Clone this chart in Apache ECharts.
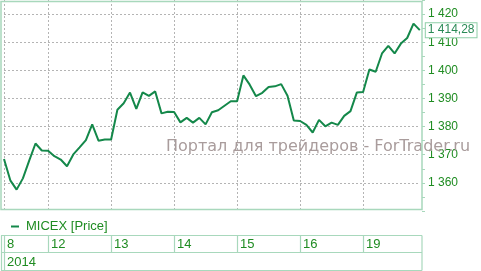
<!DOCTYPE html>
<html><head><meta charset="utf-8">
<script src="https://cdn.jsdelivr.net/npm/echarts@6/dist/echarts.min.js"></script>
<style>html,body{margin:0;padding:0;background:#fff;overflow:hidden}#c{width:481px;height:271px}</style>
</head><body><div id="c"></div>
<script>
// ---- data ----
const seriesName = 'MICEX [Price]';
const yearLabel = '2014';
const days = ['8', '12', '13', '14', '15', '16', '19'];
const day8Hours = ['13:00', '14:00', '15:00', '16:00', '17:00', '18:00', '19:00'];
const fullDayHours = ['10:00', '11:00', '12:00', '13:00', '14:00', '15:00', '16:00', '17:00', '18:00', '19:00'];
const prices = [
  1368.5, 1360.9, 1357.6, 1361.6, 1367.9, 1374.0, 1371.5,
  1371.4, 1369.5, 1368.3, 1365.9, 1370.1, 1372.6, 1375.2, 1380.8, 1375.0, 1375.4,
  1375.4, 1386.0, 1388.3, 1392.1, 1386.3, 1392.2, 1390.9, 1392.5, 1384.7, 1385.3,
  1385.2, 1381.5, 1383.1, 1381.4, 1383.1, 1380.8, 1385.1, 1385.8, 1387.4, 1389.0,
  1389.0, 1398.2, 1394.9, 1390.8, 1392.0, 1394.1, 1394.3, 1395.1, 1391.0, 1382.2,
  1382.0, 1380.6, 1377.9, 1382.4, 1380.1, 1381.4, 1380.6, 1383.8, 1385.5, 1392.1,
  1392.3, 1400.3, 1399.5, 1406.0, 1408.7, 1406.0, 1409.5, 1411.5, 1416.6, 1414.28
];
const yLabelValues = [1360, 1370, 1380, 1390, 1400, 1410, 1420];
const watermark = 'Портал для трейдеров - ForTrader.ru';

// ---- build categories ----
const categories = [];
const dayStartIdx = [];
days.forEach((d, k) => {
  dayStartIdx.push(categories.length);
  (k === 0 ? day8Hours : fullDayHours).forEach(h => categories.push(d + '.05.2014 ' + h));
});

function fmt(v, dec) {
  const s = v.toFixed(dec).split('.');
  const intPart = s[0].replace(/\B(?=(\d{3})+(?!\d))/g, ' ');
  return dec ? intPart + ',' + s[1] : intPart;
}

const TXT = '#1f8c22';
const LINE = '#14884a';
const FRAME = '#a8d8bc';
const GRIDC = '#b4b4b4';
const FONT = 'Liberation Sans';

const chart = echarts.init(document.getElementById('c'), null, {renderer: 'canvas'});
chart.setOption({
  animation: false,
  grid: {left: 4, right: 61.2, top: -2.33, bottom: 60, containLabel: false},
  legend: {
    left: 11, top: 220, padding: 0, icon: 'rect', itemWidth: 8, itemHeight: 2, itemGap: 5,
    textStyle: {color: TXT, fontSize: 13, fontFamily: FONT, padding: [0, 0, 0, 2]},
    data: [{name: seriesName}]
  },
  xAxis: {
    type: 'category', data: categories, boundaryGap: false,
    axisLine: {show: false}, axisTick: {show: false}, axisLabel: {show: false},
    splitLine: {show: true, interval: (i) => dayStartIdx.includes(i),
      lineStyle: {color: GRIDC, width: 1, type: [2, 2]}}
  },
  yAxis: [
    {
      type: 'value', position: 'right', offset: 2.2, min: 1350, max: 1425, interval: 5,
      axisLine: {show: false},
      axisTick: {show: true, inside: false, length: 3, lineStyle: {color: FRAME, width: 1}},
      axisLabel: {margin: 6, color: TXT, fontFamily: FONT, fontSize: 12,
        formatter: v => yLabelValues.includes(Math.round(v * 100) / 100) ? fmt(v, 0) : ''},
      splitLine: {show: false}
    },
    {
      type: 'value', position: 'left', min: 1350, max: 1425, interval: 10,
      axisLine: {show: false}, axisTick: {show: false}, axisLabel: {show: false},
      splitLine: {show: true, showMinLine: false, showMaxLine: false,
        lineStyle: {color: GRIDC, width: 1, type: [2, 2]}}
    }
  ],
  series: [{
    type: 'line', name: seriesName, data: prices, yAxisIndex: 0, symbol: 'none',
    lineStyle: {color: LINE, width: 2}, itemStyle: {color: LINE}, z: 3,
    endLabel: {
      show: true, formatter: p => fmt(p.value, 2), distance: 6,
      color: '#2a8a56', fontFamily: FONT, fontSize: 12, lineHeight: 12,
      backgroundColor: '#fff', borderColor: '#8fcfa8', borderWidth: 1, padding: [1, 2, 1, 2]
    }
  }]
});

// ---- decorations: frame, table, watermark ----
const g = [];
g.push({type: 'text', z: 1, style: {x: 166, y: 147, text: watermark, fill: '#a99c9c',
  font: '16px "DejaVu Sans"', textVerticalAlign: 'middle', textAlign: 'left'}});
g.push({type: 'rect', z: 10, shape: {x: 1, y: 1.5, width: 421, height: 208},
  style: {fill: 'none', stroke: FRAME, lineWidth: 1.5}});
const T0 = 235.5, T1 = 252.5, T2 = 270.5, R = 422;
[T0, T1, T2].forEach(y => g.push({type: 'line', z: 10, shape: {x1: 1, y1: y, x2: R, y2: y},
  style: {stroke: FRAME, lineWidth: 1.2}}));
[1.5, R].forEach(x => g.push({type: 'line', z: 10, shape: {x1: x, y1: T0, x2: x, y2: T2},
  style: {stroke: FRAME, lineWidth: 1.2}}));
dayStartIdx.forEach((idx, k) => {
  const px = Math.round(chart.convertToPixel({xAxisIndex: 0}, idx)) + 0.5;
  g.push({type: 'line', z: 10, shape: {x1: px, y1: T0, x2: px, y2: k === 0 ? T2 : T1},
    style: {stroke: FRAME, lineWidth: 1.2}});
  g.push({type: 'text', z: 11, style: {x: px + 2.5, y: (T0 + T1) / 2 + 0.5, text: days[k],
    fill: TXT, font: '13px "' + FONT + '"', textVerticalAlign: 'middle'}});
});
g.push({type: 'text', z: 11, style: {x: 7, y: (T1 + T2) / 2 + 0.5, text: yearLabel,
  fill: TXT, font: '13px "' + FONT + '"', textVerticalAlign: 'middle'}});
chart.setOption({graphic: {elements: g}});
</script></body></html>
